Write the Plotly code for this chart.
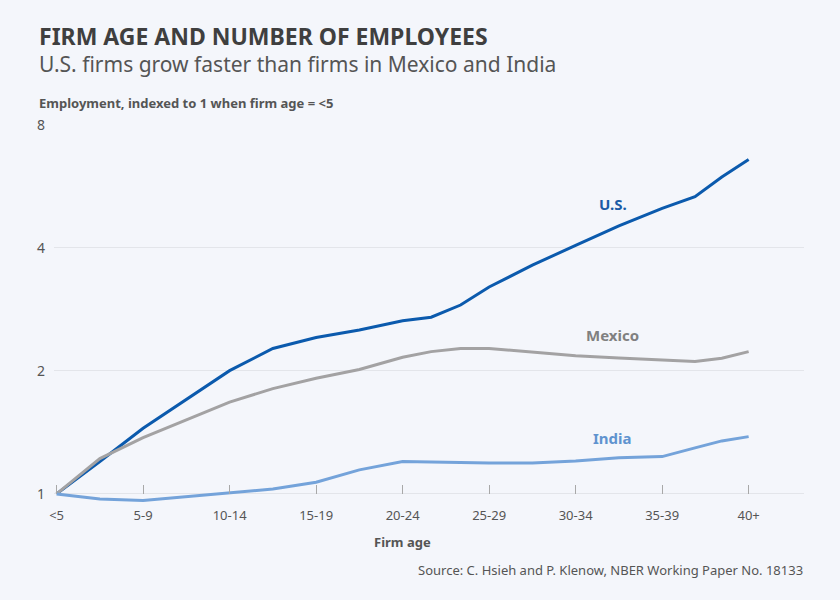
import math
import plotly.graph_objects as go

# ---- data ----
categories = ["<5", "5-9", "10-14", "15-19", "20-24", "25-29", "30-34", "35-39", "40+"]
# positions along the firm-age axis (in category units) at which values were read
age_pos = [0, 0.5, 1, 1.5, 2, 2.5, 3, 3.5, 4, 4.33, 4.67, 5, 5.5, 6, 6.5, 7, 7.38, 7.69, 8]
us = [1.0, 1.20, 1.448, 1.70, 2.003, 2.27, 2.414, 2.52, 2.655, 2.707, 2.90, 3.21,
      3.63, 4.06, 4.53, 5.0, 5.34, 5.97, 6.59]
mexico = [1.0, 1.22, 1.374, 1.517, 1.677, 1.81, 1.919, 2.016, 2.16, 2.23, 2.27, 2.27,
          2.22, 2.18, 2.15, 2.128, 2.108, 2.148, 2.23]
india = [1.0, 0.972, 0.963, 0.983, 1.004, 1.028, 1.068, 1.145, 1.20, 1.196, 1.193, 1.191,
         1.191, 1.204, 1.226, 1.234, 1.296, 1.348, 1.381]
y_ticks = [1, 2, 4, 8]

series = [
    ("U.S.", us, "#0b5aad", "#1b5ba6", 6.43, 5.12),
    ("Mexico", mexico, "#a3a2a3", "#808080", 6.43, 2.45),
    ("India", india, "#74a3da", "#5f93cf", 6.43, 1.371),
]

FONT = "Noto Sans"
fig = go.Figure()
for name, vals, color, lab_color, lx, ly in series:
    fig.add_trace(go.Scatter(x=age_pos, y=vals, mode="lines", name=name,
                             line=dict(color=color, width=3), hoverinfo="skip"))
    fig.add_annotation(x=lx, y=math.log10(ly), xref="x", yref="y", text=f"<b>{name}</b>",
                       showarrow=False, font=dict(family=FONT, size=15, color=lab_color))

ymin = math.log10(0.95)
ymax = math.log10(8)
axis_frac = (0 - ymin) / (ymax - ymin)

fig.update_layout(
    width=840, height=600,
    paper_bgcolor="#f4f6fb", plot_bgcolor="#f4f6fb",
    margin=dict(l=54, r=36, t=125, b=97),
    showlegend=False,
    font=dict(family=FONT, color="#555555"),
    xaxis=dict(
        range=[-0.03, 8.64], tickmode="array", tickvals=list(range(len(categories))),
        ticktext=categories, showgrid=False, zeroline=False, showline=False,
        ticks="inside", ticklen=9, tickcolor="#a8a8a8", tickwidth=1,
        anchor="free", position=axis_frac, ticklabelstandoff=12,
        tickfont=dict(family=FONT, size=13, color="#555555"),
    ),
    yaxis=dict(
        type="log", range=[ymin, ymax], tickmode="array", tickvals=y_ticks,
        ticktext=[str(t) for t in y_ticks], showgrid=True, gridcolor="#e3e5ea",
        gridwidth=1, zeroline=False, showline=False, ticks="",
        tickfont=dict(family=FONT, size=14, color="#555555"), ticklabelstandoff=8,
    ),
)

H = 378.1
def py(p):
    return (503.1 - p) / H
def px(p):
    return (p - 54) / 750.0

texts = [
    ("<b>FIRM AGE AND NUMBER OF EMPLOYEES</b>", px(37), py(36), "left", 23, "#3f3f3f"),
    ("U.S. firms grow faster than firms in Mexico and India", px(37), py(64), "left", 21, "#555555"),
    ("<b>Employment, indexed to 1 when firm age = <5</b>", px(37), py(103), "left", 13, "#555555"),
    ("<b>Firm age</b>", px(402), py(542), "center", 13, "#555555"),
    ("Source: C. Hsieh and P. Klenow, NBER Working Paper No. 18133", px(805), py(570), "right", 13, "#555555"),
]
for t, x, y, anc, size, col in texts:
    fig.add_annotation(x=x, y=y, xref="paper", yref="paper", text=t, showarrow=False,
                       xanchor=anc, yanchor="middle", font=dict(family=FONT, size=size, color=col))

fig.write_html("out.html", config={"displayModeBar": False},
               post_script="document.body.style.margin='0';")
